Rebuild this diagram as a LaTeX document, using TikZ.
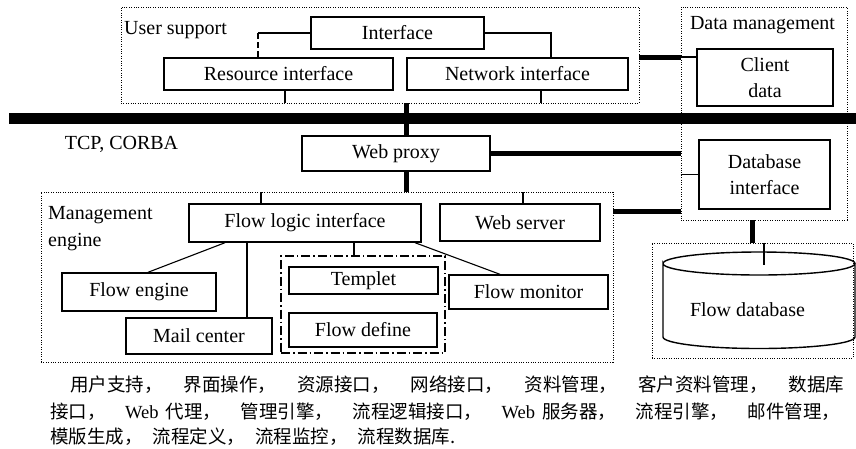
\documentclass[tikz,border=0pt]{standalone}
\usepackage{fontspec}
\setmainfont{Liberation Serif}
\newfontfamily\cjk{Noto Sans CJK SC}
\usepackage{tikz}
\usetikzlibrary{positioning, calc}

\begin{document}
\begin{tikzpicture}[x=1pt, y=-1pt,
  box/.style={rectangle, draw, line width=1.4pt, inner sep=0pt, align=center, font=\fontsize{20}{26}\selectfont},
  group/.style={rectangle, draw, line width=0.9pt, dash pattern=on 1pt off 1.4pt, inner sep=0pt},
  grouplabel/.style={inner sep=1pt, align=left, font=\fontsize{20}{27}\selectfont},
  link/.style={line width=1.1pt},
  heavy/.style={line width=5pt},
  bus/.style={line width=11pt},
  caption/.style={anchor=west, inner sep=0pt, font=\fontsize{18.5}{22}\selectfont}
]
  \useasboundingbox (0,0) rectangle (856,448);

  \node[group, minimum width=518pt, minimum height=96pt] (usersup) at (380,55) {};
  \node[group, minimum width=166pt, minimum height=213pt] (datamgmt) at (764,113.5) {};
  \node[group, minimum width=572pt, minimum height=170pt] (mgmt) at (327,277) {};
  \node[group, minimum width=201pt, minimum height=115pt] (dbgroup) at (752.5,300.5) {};
  \node[group, line width=1.2pt, dash pattern=on 9pt off 3pt on 1.5pt off 3pt, minimum width=164pt, minimum height=97pt] (tplgroup) at (363,304.5) {};

  \node[grouplabel, anchor=west] (usersuptext) at (123,30) {User support};
  \node[grouplabel] (datatext) at (762.5,25) {Data management};
  \node[grouplabel, anchor=west] (mgmttext) at (47,228.5) {Management\\engine};
  \node[grouplabel] (tcp) at (121.5,144) {TCP, CORBA};

  \node[box, minimum width=173pt, minimum height=32pt] (iface) at (397.5,33) {Interface};
  \node[box, minimum width=229pt, minimum height=32pt] (resif) at (278.5,74) {Resource interface};
  \node[box, minimum width=221pt, minimum height=32pt] (netif) at (517.5,74) {Network interface};
  \node[box, minimum width=136pt, minimum height=57pt] (client) at (765,77.5) {Client\\data};
  \node[box, minimum width=188pt, minimum height=35pt] (proxy) at (396,153.5) {Web proxy};
  \node[box, minimum width=131pt, minimum height=69pt] (dbif) at (764.5,174.5) {Database\\interface};
  \node[box, minimum width=232pt, minimum height=38pt] (flowif) at (305,223) {Flow logic interface};
  \node[box, minimum width=160pt, minimum height=37pt] (websrv) at (520,222.5) {Web server};
  \node[box, minimum width=154pt, minimum height=38pt] (fengine) at (139,292) {Flow engine};
  \node[box, minimum width=146pt, minimum height=36pt] (mail) at (199,336) {Mail center};
  \node[box, minimum width=149pt, minimum height=27pt] (templet) at (363.5,280.5) {Templet};
  \node[box, minimum width=148pt, minimum height=34pt] (fdefine) at (363,330) {Flow define};
  \node[box, minimum width=159pt, minimum height=34pt] (fmonitor) at (528.5,292) {Flow monitor};

  \draw[line width=1.4pt] (663,263.5) arc[start angle=180, end angle=-180, x radius=96pt, y radius=11.5pt]
    -- (663,337) arc[start angle=180, end angle=360, x radius=96pt, y radius=11.5pt] -- (855,263.5);
  \node[grouplabel] (fdb) at (747.5,310) {Flow database};
  \coordinate (cyltop) at (764,265);

  \coordinate (busl) at (9,118.5);
  \coordinate (busr) at (856,118.5);
  \draw[bus] (busl) -- (busr);

  \coordinate (resjoin) at ($(resif.north)+(-20.5,0)$);
  \coordinate (netjoin) at ($(netif.north)+(33.5,0)$);
  \draw[link] (iface.west) -- (resjoin |- iface.west);
  \draw[link, dash pattern=on 6pt off 3pt] (resjoin |- iface.west) -- (resjoin);
  \draw[link] (iface.east) -| (netjoin);
  \draw[link] ([xshift=6.5pt]resif.south) -- ([xshift=6.5pt]resif.south |- usersup.south);
  \draw[link] ([xshift=23.5pt]netif.south) -- ([xshift=23.5pt]netif.south |- usersup.south);

  \draw[heavy] (usersup.south -| netif.west) -- (proxy.north -| netif.west);
  \draw[heavy] (proxy.south -| netif.west) -- (mgmt.north -| netif.west);
  \draw[heavy] ([yshift=-2pt]usersup.east) -- ([yshift=-2pt]usersup.east -| datamgmt.west);
  \draw[link] ([yshift=-2pt]usersup.east -| datamgmt.west) -- ([yshift=-2pt]usersup.east -| client.west);
  \draw[heavy] (proxy.east) -- (proxy.east -| datamgmt.west);
  \draw[link] (dbif.west -| datamgmt.west) -- (dbif.west);
  \draw[heavy] ([yshift=11.5pt]websrv.east -| mgmt.east) -- ([yshift=11.5pt]websrv.east -| datamgmt.west);
  \draw[heavy] (dbgroup.north |- datamgmt.south) -- (dbgroup.north);
  \draw[link] ([xshift=11.5pt]dbgroup.north) -- (cyltop);

  \draw[link] ([xshift=-44pt]flowif.north) -- ([xshift=-44pt]flowif.north |- mgmt.north);
  \draw[link] ([xshift=3pt]websrv.north) -- ([xshift=3pt]websrv.north |- mgmt.north);
  \draw[link] ([xshift=9pt]fengine.north) -- ([xshift=-80pt]flowif.south);
  \draw[link] ([xshift=-58pt]flowif.south) -- ([xshift=-58pt]flowif.south |- mail.north);
  \draw[link] ([xshift=49pt]flowif.south) -- ([xshift=49pt]flowif.south |- tplgroup.north);
  \draw[link] ([xshift=110pt]flowif.south) -- ([xshift=-28.5pt]fmonitor.north);

  \node[caption] (cap1) at (70,385) {\makebox[774pt][s]{\cjk 用户支持，\hfill 界面操作，\hfill 资源接口，\hfill 网络接口，\hfill 资料管理，\hfill 客户资料管理，\hfill 数据库}};
  \node[caption] (cap2) at (50,412) {\makebox[790pt][s]{{\cjk 接口，}\hfill Web\hspace{7pt}{\cjk 代理，}\hfill{\cjk 管理引擎，}\hfill{\cjk 流程逻辑接口，}\hfill Web\hspace{7pt}{\cjk 服务器，}\hfill{\cjk 流程引擎，}\hfill{\cjk 邮件管理，}}};
  \node[caption] (cap3) at (50,437) {\cjk 模版生成，\hspace{10pt}流程定义，\hspace{10pt}流程监控，\hspace{10pt}流程数据库.};
\end{tikzpicture}
\end{document}
